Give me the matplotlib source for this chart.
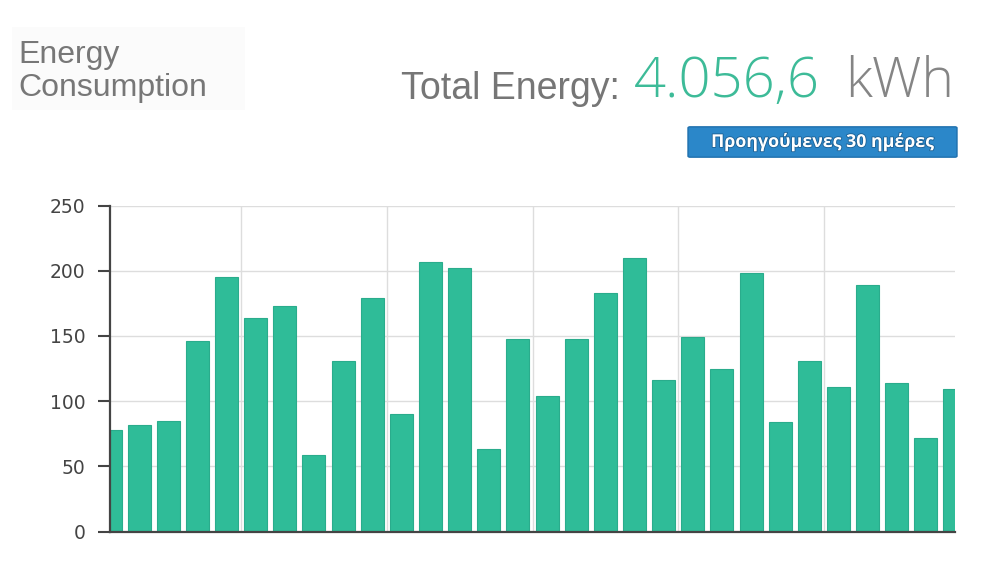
import numpy as np
import matplotlib.pyplot as plt
from matplotlib.patches import FancyBboxPatch, Rectangle
import matplotlib.patheffects as pe

# Data
dias = list(range(1, 31))
consumo = [78, 82, 85, 146, 195, 164, 173, 59, 131, 179,
           90, 207, 202, 63, 148, 104, 148, 183, 210, 116,
           149, 125, 198, 84, 131, 111, 189, 114, 72, 109]
y_ticks = [0, 50, 100, 150, 200, 250]
total_txt = "4.056,6"
titulo = "Energy\nConsumption"
boton_txt = "Προηγούμενες 30 ημέρες"

W, H = 1000, 583
fig = plt.figure(figsize=(W / 100, H / 100), dpi=100, facecolor='white')


def fx(px):
    return px / W


def fy(py):
    return 1 - py / H


# faint panel behind the title
fig.patches.append(Rectangle((fx(12), fy(110)), fx(233), 83 / H,
                             transform=fig.transFigure, facecolor='#fbfbfb',
                             edgecolor='none', zorder=0))

fig.text(fx(18), fy(96), titulo, color='#777777', fontsize=23,
         family='Liberation Sans', ha='left', va='baseline', linespacing=1.15)

fig.text(fx(620), fy(99), "Total Energy:", color='#767676', fontsize=27,
         family='Liberation Sans', ha='right', va='baseline')
fig.text(fx(634), fy(97), total_txt, color='#3dbb98', fontsize=40.5,
         family='Open Sans', fontweight='light', ha='left', va='baseline')
fig.text(fx(845), fy(97), "kWh", color='#858585', fontsize=40,
         family='Open Sans', fontweight='light', ha='left', va='baseline')

# button
fig.patches.append(FancyBboxPatch((fx(690), fy(156)), fx(265), 28 / H,
                                  boxstyle="round,pad=0.002",
                                  transform=fig.transFigure,
                                  facecolor='#2b87c9', edgecolor='#1f70ad',
                                  linewidth=1, zorder=1))
fig.text(fx(822), fy(142), boton_txt, color='white', fontsize=12.8,
         family=['Open Sans', 'DejaVu Sans'], fontweight='bold',
         ha='center', va='center', zorder=2,
         path_effects=[pe.withStroke(linewidth=1.2, foreground='#1b5f93')])

# chart
ax = fig.add_axes([0.110, 1 - 531.5 / H, 0.845, (531.5 - 205.5) / H])
x = np.arange(len(dias))
ax.bar(x, consumo, width=0.79, color='#2fbc98', edgecolor='#2aac8c',
       linewidth=0.8, zorder=2)

ax.set_xlim(0, len(dias) - 1)
ax.set_ylim(0, 250)
ax.set_yticks(y_ticks)
ax.set_xticks(x[4::5][:-1] + 0.5)
ax.tick_params(axis='x', length=0, labelbottom=False)
ax.tick_params(axis='y', length=8.6, width=1.5, color='#444444', pad=9,
               labelsize=13.5, labelcolor='#444444')
ax.grid(True, color='#dddddd', linewidth=1, zorder=0)
ax.set_axisbelow(True)

for s in ['top', 'right']:
    ax.spines[s].set_visible(False)
for s in ['left', 'bottom']:
    ax.spines[s].set_color('#444444')
    ax.spines[s].set_linewidth(1.6)
    ax.spines[s].set_zorder(3)

plt.savefig("out.png", dpi=100, facecolor='white')
